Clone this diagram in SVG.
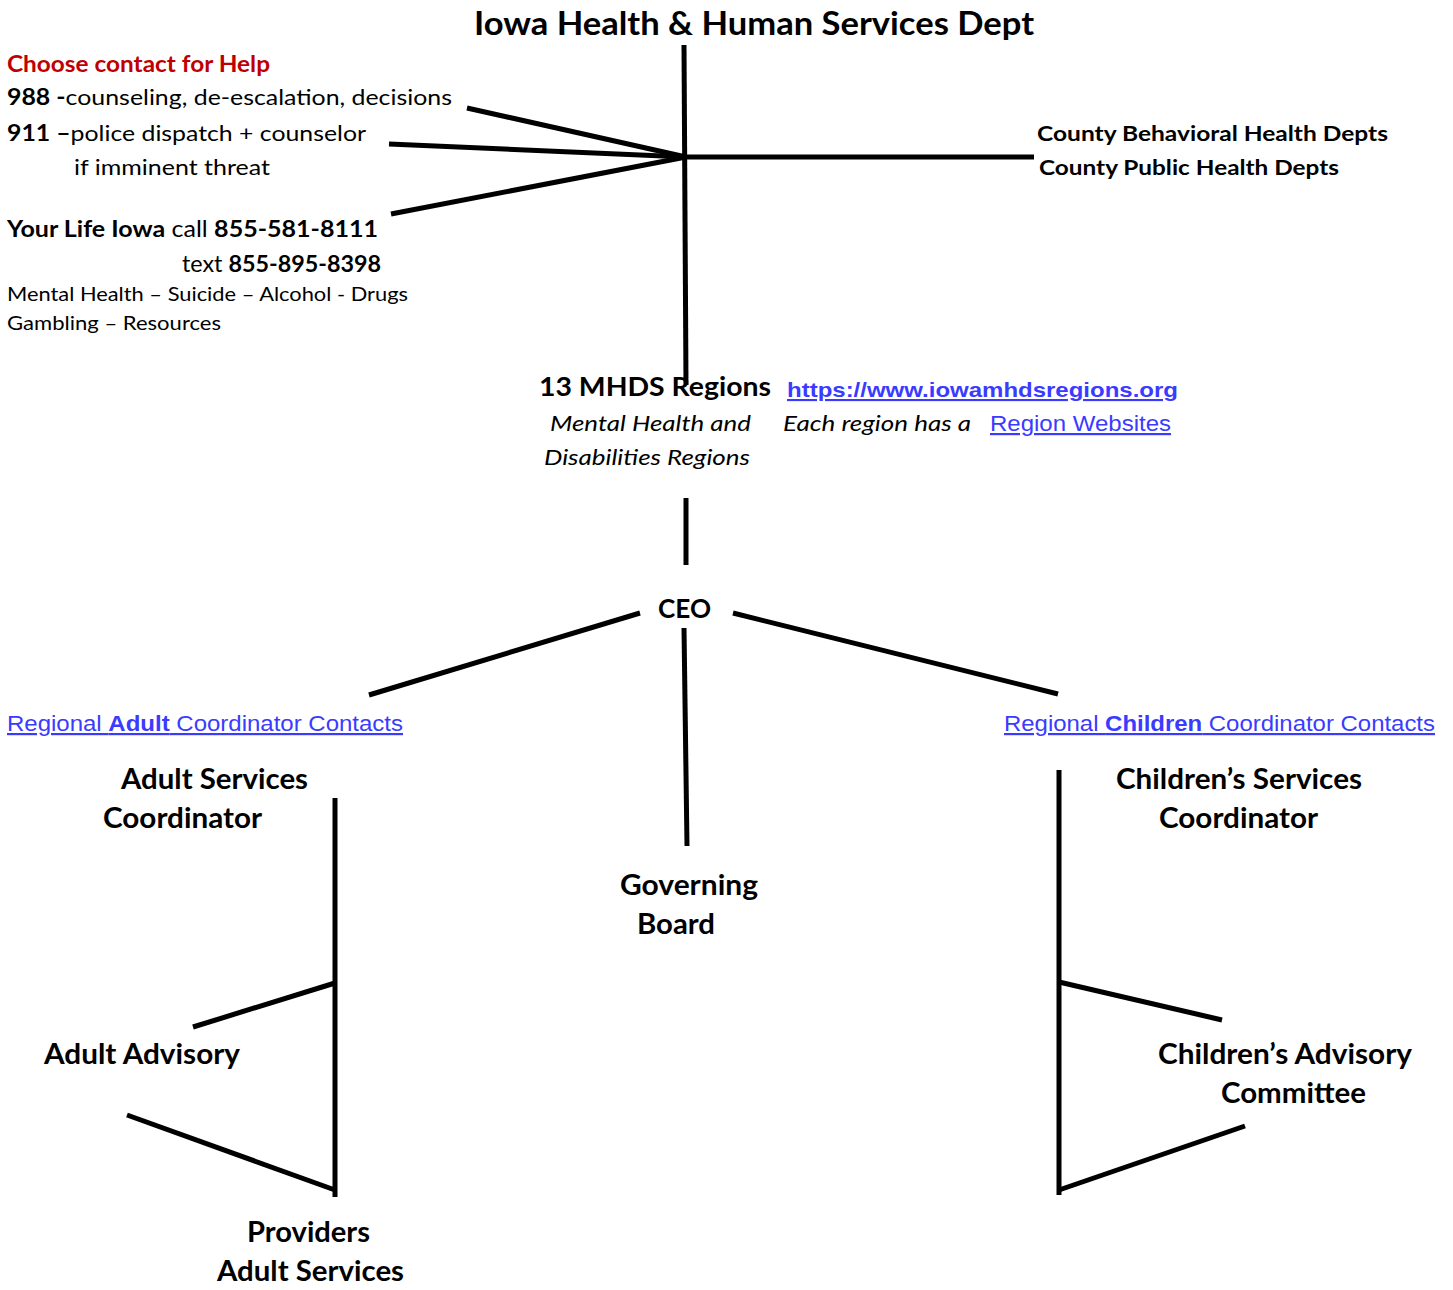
<svg xmlns="http://www.w3.org/2000/svg" width="1453" height="1290" viewBox="0 0 1453 1290">
<style>
.t{font-family:Lato,"Open Sans","Liberation Sans",sans-serif;fill:#000}
.b{font-weight:bold}
.i{font-style:italic}
.lk{font-family:"Liberation Sans",Arial,sans-serif;fill:#3b3bff;text-decoration:underline}
.ln{stroke:#000;stroke-width:5;fill:none;stroke-linecap:butt}
</style>
<rect width="1453" height="1290" fill="#fff"/>
<g id="connectors">
<line class="ln" x1="684" y1="45" x2="686" y2="385"/>
<line class="ln" x1="686" y1="157" x2="1034" y2="157"/>
<line class="ln" x1="686" y1="157" x2="467" y2="108"/>
<line class="ln" x1="686" y1="157" x2="389" y2="144"/>
<line class="ln" x1="686" y1="157" x2="391" y2="214"/>
<line class="ln" x1="686" y1="498" x2="686" y2="565"/>
<line class="ln" x1="640" y1="613" x2="369" y2="695"/>
<line class="ln" x1="733" y1="613" x2="1058" y2="694"/>
<line class="ln" x1="684" y1="628" x2="687" y2="846"/>
<line class="ln" x1="335" y1="798" x2="335" y2="1197"/>
<line class="ln" x1="335" y1="983" x2="193" y2="1027"/>
<line class="ln" x1="335" y1="1190" x2="127" y2="1115"/>
<line class="ln" x1="1059" y1="770" x2="1059" y2="1195"/>
<line class="ln" x1="1059" y1="982" x2="1222" y2="1020"/>
<line class="ln" x1="1059" y1="1190" x2="1245" y2="1126"/>
</g>
<g id="dept">
<text class="t b" x="474" y="35" font-size="32" textLength="560" lengthAdjust="spacingAndGlyphs">Iowa Health &amp; Human Services Dept</text>
</g>
<g id="help">
<text class="t b" x="7" y="72" font-size="22" fill="#c00000" style="fill:#c00000" textLength="263" lengthAdjust="spacingAndGlyphs">Choose contact for Help</text>
<text class="t" x="7" y="105" font-size="22" textLength="445" lengthAdjust="spacingAndGlyphs"><tspan class="b">988 -</tspan>counseling, de-escalation, decisions</text>
<text class="t" x="7" y="141" font-size="22" textLength="359" lengthAdjust="spacingAndGlyphs"><tspan class="b">911 –</tspan>police dispatch + counselor</text>
<text class="t" x="74" y="175" font-size="22" textLength="196" lengthAdjust="spacingAndGlyphs">if imminent threat</text>
<text class="t" x="7" y="237" font-size="23" textLength="371" lengthAdjust="spacingAndGlyphs"><tspan class="b">Your Life Iowa</tspan> call <tspan class="b">855-581-8111</tspan></text>
<text class="t" x="182" y="272" font-size="23" textLength="199" lengthAdjust="spacingAndGlyphs">text <tspan class="b">855-895-8398</tspan></text>
<text class="t" x="7" y="301" font-size="19" textLength="401" lengthAdjust="spacingAndGlyphs">Mental Health – Suicide – Alcohol - Drugs</text>
<text class="t" x="7" y="330" font-size="19" textLength="214" lengthAdjust="spacingAndGlyphs">Gambling – Resources</text>
</g>
<g id="county">
<text class="t b" x="1037" y="141" font-size="21" textLength="351" lengthAdjust="spacingAndGlyphs">County Behavioral Health Depts</text>
<text class="t b" x="1039" y="175" font-size="21" textLength="300" lengthAdjust="spacingAndGlyphs">County Public Health Depts</text>
</g>
<g id="regions">
<text class="t b" x="539" y="396" font-size="26" textLength="232" lengthAdjust="spacingAndGlyphs">13 MHDS Regions</text>
<text class="lk b" x="787" y="397" font-size="21" textLength="391" lengthAdjust="spacingAndGlyphs">https://www.iowamhdsregions.org</text>
<text class="t i" x="550" y="431" font-size="22" textLength="201" lengthAdjust="spacingAndGlyphs">Mental Health and</text>
<text class="t i" x="544" y="465" font-size="22" textLength="206" lengthAdjust="spacingAndGlyphs">Disabilities Regions</text>
<text class="t i" x="783" y="431" font-size="22" textLength="188" lengthAdjust="spacingAndGlyphs">Each region has a</text>
<text class="lk" x="990" y="431" font-size="22" textLength="181" lengthAdjust="spacingAndGlyphs">Region Websites</text>
</g>
<g id="ceo">
<text class="t b" x="658" y="618" font-size="26" textLength="53" lengthAdjust="spacingAndGlyphs">CEO</text>
</g>
<g id="adult-link">
<text class="lk" x="7" y="731" font-size="22" textLength="396" lengthAdjust="spacingAndGlyphs">Regional <tspan font-weight="bold">Adult</tspan> Coordinator Contacts</text>
</g>
<g id="children-link">
<text class="lk" x="1004" y="731" font-size="22" textLength="431" lengthAdjust="spacingAndGlyphs">Regional <tspan font-weight="bold">Children</tspan> Coordinator Contacts</text>
</g>
<g id="adult-coord">
<text class="t b" x="121" y="789" font-size="28" textLength="187" lengthAdjust="spacingAndGlyphs">Adult Services</text>
<text class="t b" x="103" y="828" font-size="28" textLength="159" lengthAdjust="spacingAndGlyphs">Coordinator</text>
</g>
<g id="board">
<text class="t b" x="620" y="895" font-size="28" textLength="138" lengthAdjust="spacingAndGlyphs">Governing</text>
<text class="t b" x="637" y="934" font-size="28" textLength="78" lengthAdjust="spacingAndGlyphs">Board</text>
</g>
<g id="children-coord">
<text class="t b" x="1116" y="789" font-size="28" textLength="246" lengthAdjust="spacingAndGlyphs">Children’s Services</text>
<text class="t b" x="1159" y="828" font-size="28" textLength="159" lengthAdjust="spacingAndGlyphs">Coordinator</text>
</g>
<g id="adult-advisory">
<text class="t b" x="44" y="1064" font-size="28" textLength="196" lengthAdjust="spacingAndGlyphs">Adult Advisory</text>
</g>
<g id="providers">
<text class="t b" x="247" y="1242" font-size="28" textLength="123" lengthAdjust="spacingAndGlyphs">Providers</text>
<text class="t b" x="217" y="1281" font-size="28" textLength="187" lengthAdjust="spacingAndGlyphs">Adult Services</text>
</g>
<g id="children-advisory">
<text class="t b" x="1158" y="1064" font-size="28" textLength="254" lengthAdjust="spacingAndGlyphs">Children’s Advisory</text>
<text class="t b" x="1221" y="1103" font-size="28" textLength="145" lengthAdjust="spacingAndGlyphs">Committee</text>
</g>
</svg>
